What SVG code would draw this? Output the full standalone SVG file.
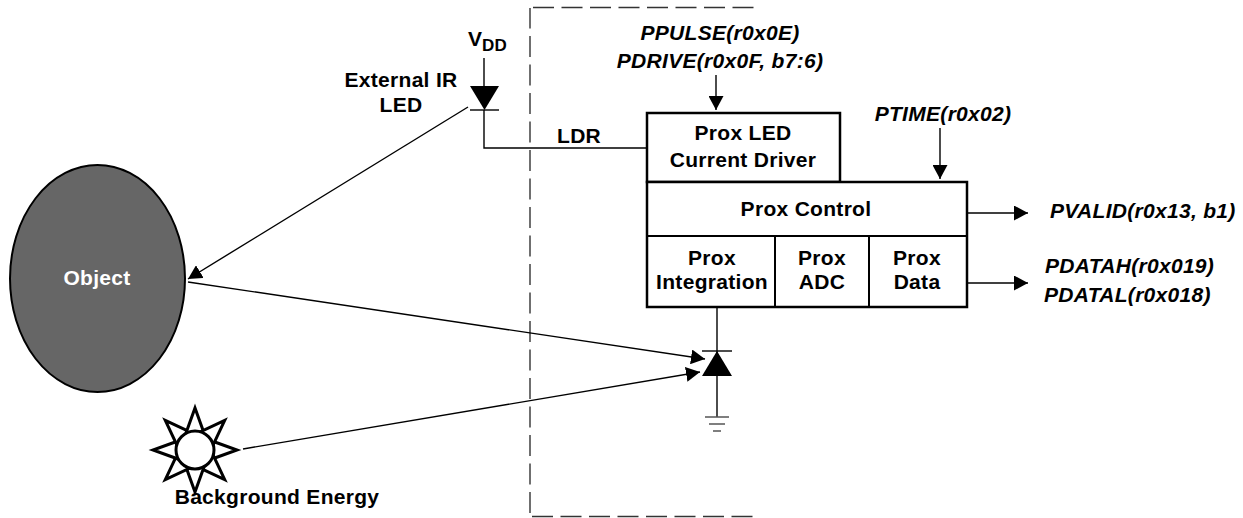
<svg xmlns="http://www.w3.org/2000/svg" width="1243" height="518" viewBox="0 0 1243 518">
<style>
  text { font-family: "Liberation Sans", Arial, sans-serif; font-weight: bold; font-size: 21px; letter-spacing: 0.3px; fill: #000; }
  .it { font-style: italic; }
  .mid { text-anchor: middle; }
  .box { fill: #fff; stroke: #000; stroke-width: 2.5; }
  .div { stroke: #000; stroke-width: 2; fill: none; }
  .wire { stroke: #000; stroke-width: 1.4; fill: none; }
  .arr { stroke: #000; stroke-width: 1.4; fill: none; marker-end: url(#ah); }
  .dash { stroke: #333; stroke-width: 1.4; fill: none; stroke-dasharray: 21 7.5; }
  .ray { fill: #fff; stroke: #000; stroke-width: 3; stroke-linejoin: miter; }
</style>
<defs>
  <marker id="ah" markerUnits="userSpaceOnUse" markerWidth="14" markerHeight="15" refX="14" refY="7.5" orient="auto">
    <path d="M0,0 L14,7.5 L0,15 z" fill="#000"/>
  </marker>
  <polygon id="rayshape" class="ray" points="212,459 237,450 212,441"/>
</defs>
<rect width="1243" height="518" fill="#fff"/>

<g id="chip-boundary">
  <path class="dash" d="M530,513 L530,8"/>
  <path class="dash" d="M533,7.5 L760,7.5"/>
  <path class="dash" d="M532,516.5 L760,516.5" stroke="#999"/>
</g>

<g id="connectors">
  <path class="wire" d="M484,58 L484,86"/>
  <path class="wire" d="M484,110 L484,148 L647,148"/>
  <path class="arr" d="M716,75 L716,110"/>
  <path class="arr" d="M940,128 L940,179"/>
  <path class="arr" d="M967,213 L1028,213"/>
  <path class="arr" d="M967,283 L1028,283"/>
  <path class="arr" d="M468,107 L188,279"/>
  <path class="arr" d="M188,282 L705,359"/>
  <path class="arr" d="M243,449 L700,372"/>
  <path class="wire" d="M717,307 L717,417"/>
</g>

<g id="vdd">
  <text x="468" y="46" style="font-size:21px">V</text>
  <text x="482" y="51" style="font-size:17px">DD</text>
</g>

<g id="external-led">
  <polygon points="470,86 499,86 484.5,110" fill="#000"/>
  <path class="wire" d="M470,110 L499,110"/>
  <text class="mid" x="401" y="87">External IR</text>
  <text class="mid" x="401" y="112">LED</text>
</g>

<text x="557" y="143">LDR</text>

<g id="register-labels">
  <text class="it mid" x="720" y="40">PPULSE(r0x0E)</text>
  <text class="it mid" x="720" y="68">PDRIVE(r0x0F, b7:6)</text>
  <text class="it mid" x="943" y="121">PTIME(r0x02)</text>
  <text class="it" x="1050" y="218">PVALID(r0x13, b1)</text>
  <text class="it" x="1045" y="273">PDATAH(r0x019)</text>
  <text class="it" x="1044" y="302">PDATAL(r0x018)</text>
</g>

<g id="prox-led-driver">
  <rect class="box" x="647" y="113" width="193" height="69"/>
  <text class="mid" x="743" y="140">Prox LED</text>
  <text class="mid" x="743" y="167">Current Driver</text>
</g>

<g id="prox-control">
  <rect class="box" x="647" y="182" width="320" height="125"/>
  <path class="div" d="M647,236 L967,236"/>
  <text class="mid" x="806" y="216">Prox Control</text>
</g>

<g id="prox-integration">
  <text class="mid" x="712" y="265">Prox</text>
  <text class="mid" x="712" y="289">Integration</text>
</g>
<g id="prox-adc">
  <path class="div" d="M775,236 L775,306"/>
  <text class="mid" x="822" y="265">Prox</text>
  <text class="mid" x="822" y="289">ADC</text>
</g>
<g id="prox-data">
  <path class="div" d="M869,236 L869,306"/>
  <text class="mid" x="917" y="265">Prox</text>
  <text class="mid" x="917" y="289">Data</text>
</g>

<g id="photodiode">
  <polygon points="702,376 732,376 717,351" fill="#000"/>
  <path class="wire" d="M702,351 L732,351"/>
  <path d="M705,417 L729,417 M709,424 L725,424 M713,431 L721,431" stroke="#555" stroke-width="1.4"/>
</g>

<g id="object">
  <ellipse cx="97.5" cy="278.5" rx="87.5" ry="113.5" fill="#666" stroke="#000" stroke-width="2"/>
  <text class="mid" x="97" y="285" style="fill:#fff">Object</text>
</g>

<g id="background-energy">
  <use href="#rayshape"/>
  <use href="#rayshape" transform="rotate(45 195 450)"/>
  <use href="#rayshape" transform="rotate(90 195 450)"/>
  <use href="#rayshape" transform="rotate(135 195 450)"/>
  <use href="#rayshape" transform="rotate(180 195 450)"/>
  <use href="#rayshape" transform="rotate(225 195 450)"/>
  <use href="#rayshape" transform="rotate(270 195 450)"/>
  <use href="#rayshape" transform="rotate(315 195 450)"/>
  <circle cx="195" cy="450" r="19" fill="#fff" stroke="#000" stroke-width="3"/>
  <text class="mid" x="277" y="504">Background Energy</text>
</g>
</svg>
